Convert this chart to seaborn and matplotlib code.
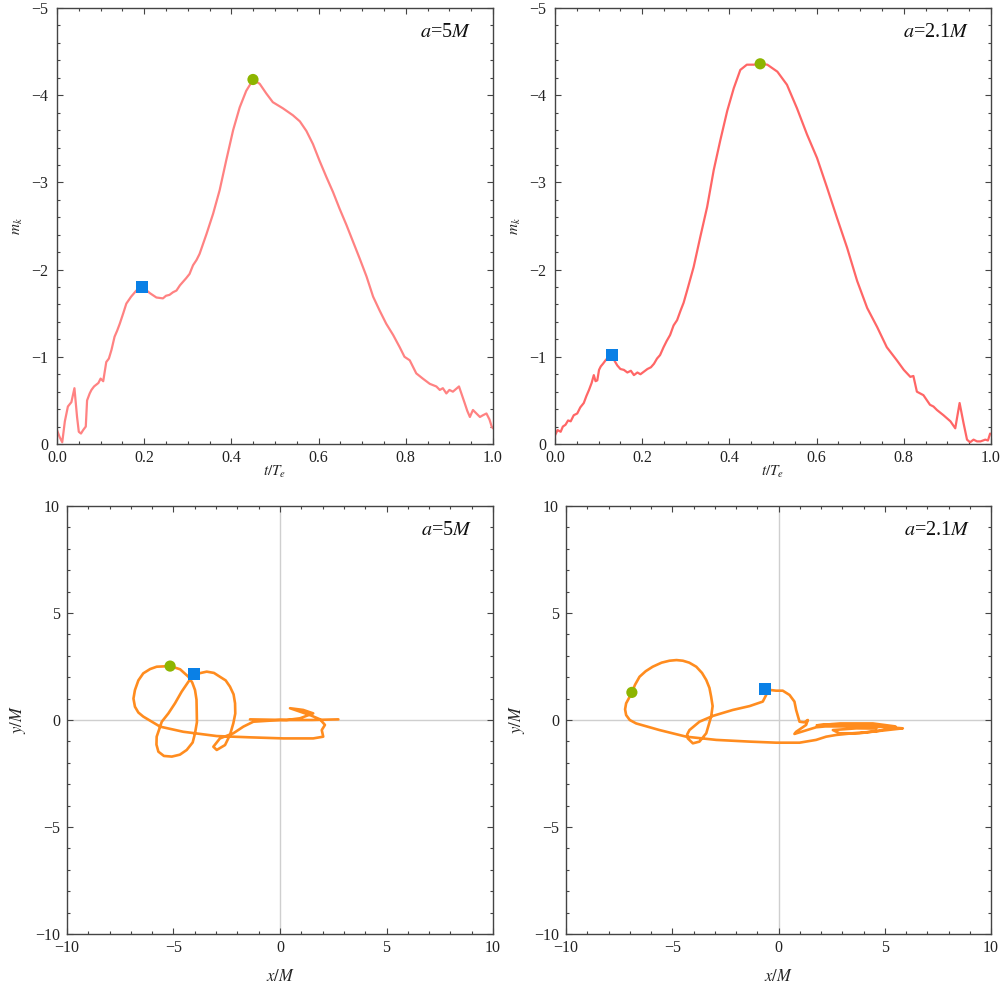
import matplotlib
matplotlib.use("Agg")
import matplotlib.pyplot as plt
from matplotlib.ticker import MultipleLocator
import seaborn as sns

# ---------------- data ----------------
tl_t = [0.0,0.006,0.012,0.018,0.025,0.033,0.040,0.046,0.050,0.055,
        0.060,0.066,0.069,0.075,0.079,0.085,0.09,0.095,0.10,0.106,
        0.113,0.119,0.125,0.132,0.138,0.144,0.152,0.159,0.17,0.182,
        0.196,0.213,0.228,0.243,0.25,0.258,0.266,0.274,0.282,0.289,
        0.296,0.304,0.312,0.32,0.327,0.343,0.358,0.373,0.388,0.404,
        0.419,0.434,0.45,0.465,0.48,0.495,0.518,0.541,0.557,0.572,
        0.587,0.602,0.618,0.633,0.648,0.664,0.679,0.694,0.71,0.725,
        0.74,0.755,0.771,0.786,0.797,0.809,0.824,0.839,0.855,0.87,
        0.878,0.885,0.893,0.900,0.908,0.922,0.935,0.941,0.947,0.954,
        0.962,0.97,0.977,0.985,0.992,0.997,1.0]
tl_m = [-0.16,-0.08,-0.02,-0.26,-0.43,-0.48,-0.64,-0.31,-0.14,-0.12,
        -0.16,-0.20,-0.50,-0.58,-0.62,-0.66,-0.68,-0.70,-0.75,-0.72,
        -0.94,-0.98,-1.08,-1.23,-1.30,-1.38,-1.50,-1.61,-1.69,-1.76,
        -1.80,-1.73,-1.68,-1.67,-1.70,-1.71,-1.74,-1.76,-1.82,-1.86,
        -1.90,-1.95,-2.05,-2.11,-2.18,-2.41,-2.64,-2.91,-3.25,-3.60,
        -3.86,-4.05,-4.18,-4.13,-4.02,-3.92,-3.85,-3.77,-3.70,-3.59,
        -3.44,-3.25,-3.06,-2.89,-2.70,-2.51,-2.32,-2.13,-1.92,-1.69,
        -1.53,-1.38,-1.25,-1.11,-1.00,-0.96,-0.81,-0.75,-0.69,-0.66,
        -0.62,-0.64,-0.58,-0.62,-0.60,-0.66,-0.47,-0.38,-0.31,-0.39,
        -0.35,-0.31,-0.33,-0.35,-0.28,-0.20,-0.18]

tr_t = [0.0,0.006,0.013,0.018,0.024,0.030,0.036,0.043,0.051,0.058,
        0.066,0.072,0.078,0.084,0.089,0.093,0.097,0.101,0.105,0.110,
        0.116,0.123,0.131,0.137,0.143,0.150,0.158,0.166,0.174,0.181,
        0.189,0.196,0.204,0.212,0.220,0.227,0.234,0.241,0.249,0.256,
        0.264,0.272,0.280,0.288,0.295,0.303,0.318,0.333,0.349,0.364,
        0.379,0.395,0.41,0.425,0.44,0.456,0.4706,0.487,0.51,0.532,
        0.555,0.578,0.601,0.624,0.647,0.67,0.693,0.716,0.739,0.761,
        0.784,0.80,0.815,0.822,0.83,0.845,0.86,0.868,0.876,0.891,
        0.907,0.918,0.928,0.937,0.945,0.952,0.96,0.968,0.976,0.987,
        0.993,0.998]
tr_m = [-0.10,-0.16,-0.14,-0.20,-0.22,-0.27,-0.26,-0.33,-0.35,-0.42,
        -0.47,-0.55,-0.62,-0.70,-0.79,-0.72,-0.73,-0.85,-0.89,-0.92,
        -0.96,-1.00,-1.02,-0.95,-0.90,-0.86,-0.85,-0.82,-0.84,-0.79,
        -0.82,-0.80,-0.83,-0.86,-0.88,-0.92,-0.98,-1.02,-1.11,-1.18,
        -1.25,-1.36,-1.42,-1.53,-1.62,-1.76,-2.03,-2.37,-2.72,-3.14,
        -3.48,-3.82,-4.08,-4.29,-4.35,-4.35,-4.36,-4.35,-4.27,-4.12,
        -3.85,-3.55,-3.28,-2.94,-2.59,-2.25,-1.87,-1.56,-1.34,-1.11,
        -0.96,-0.85,-0.77,-0.78,-0.60,-0.56,-0.45,-0.43,-0.39,-0.33,
        -0.26,-0.18,-0.47,-0.24,-0.05,-0.02,-0.05,-0.03,-0.03,-0.05,
        -0.04,-0.12]

bl_x = [2.74,1.5,0.0,-1.25,-1.72,-2.19,-2.82,-3.13,-2.97,-2.58,
        -2.35,-2.19,-2.10,-2.11,-2.18,-2.35,-2.55,-2.82,-3.10,-3.44,
        -4.02,-4.30,-4.62,-4.93,-5.24,-5.55,-5.79,-5.80,-5.71,-5.45,
        -5.08,-4.70,-4.38,-4.10,-3.99,-3.90,-3.91,-3.92,-3.99,-4.12,
        -4.30,-4.69,-5.16,-5.79,-6.10,-6.42,-6.65,-6.81,-6.88,-6.81,
        -6.65,-6.42,-5.63,-4.54,-2.97,-1.41,0.16,1.56,2.03,1.96,
        2.11,1.88,1.41,0.47,1.09,1.56,0.94,0.31,-1.41]
bl_y = [0.03,0.0,0.0,-0.08,-0.31,-0.62,-0.86,-1.25,-1.40,-1.17,
        -0.70,-0.15,0.30,0.78,1.20,1.56,1.85,2.02,2.20,2.26,
        2.13,1.79,1.32,0.78,0.31,-0.08,-0.78,-1.15,-1.48,-1.68,
        -1.71,-1.62,-1.40,-1.05,-0.62,-0.10,0.47,0.95,1.40,1.75,
        2.02,2.37,2.52,2.49,2.38,2.18,1.85,1.40,1.00,0.62,
        0.35,0.16,-0.31,-0.55,-0.75,-0.81,-0.86,-0.86,-0.78,-0.47,
        -0.23,0.03,0.23,0.55,0.47,0.31,0.08,0.0,0.03]

br_x = [4.0,5.07,3.66,2.2,1.77,0.75,0.83,1.30,1.38,1.22,
        0.99,0.83,0.75,0.52,0.20,-0.11,-0.64,-0.58,-0.74,-1.36,
        -2.15,-3.09,-3.72,-4.19,-4.30,-4.27,-4.03,-3.72,-3.40,-3.17,
        -3.10,-3.17,-3.25,-3.40,-3.60,-3.87,-4.20,-4.50,-4.80,-5.13,
        -5.50,-5.92,-6.25,-6.54,-6.75,-6.90,-7.05,-7.17,-7.22,-7.17,
        -7.00,-6.70,-5.60,-4.34,-2.93,-1.36,-0.11,0.99,1.77,2.24,
        2.71,3.50,4.40,5.30,5.85,4.75,3.60,2.50,1.80,2.90,
        4.44,5.50,4.75,3.81,2.87,2.56,3.66,4.60]
br_y = [-0.35,-0.31,-0.30,-0.30,-0.34,-0.65,-0.55,-0.23,0.0,-0.11,
        -0.08,0.47,0.86,1.17,1.37,1.37,1.43,1.17,0.86,0.65,
        0.47,0.19,-0.08,-0.47,-0.68,-0.86,-1.09,-1.01,-0.62,0.16,
        0.65,1.09,1.50,1.87,2.20,2.49,2.68,2.77,2.80,2.77,
        2.68,2.49,2.28,2.02,1.65,1.29,1.00,0.78,0.50,0.23,
        0.00,-0.16,-0.47,-0.78,-0.93,-1.01,-1.06,-1.06,-0.93,-0.78,
        -0.70,-0.62,-0.55,-0.45,-0.39,-0.30,-0.22,-0.20,-0.25,-0.16,
        -0.16,-0.30,-0.50,-0.62,-0.62,-0.47,-0.39,-0.40]

# marker points (square = earlier, circle = later)
tl_sq = ([0.196], [-1.80]); tl_ci = ([0.4495], [-4.18])
tr_sq = ([0.1306], [-1.02]); tr_ci = ([0.4706], [-4.36])
bl_sq = ([-4.02], [2.13]); bl_ci = ([-5.16], [2.52])
br_sq = ([-0.64], [1.43]); br_ci = ([-6.90], [1.29])

labels = ["5", "2.1"]

# ---------------- style ----------------
sns.set_theme(style="ticks")
plt.rcParams["font.family"] = ["Liberation Serif", "DejaVu Serif"]
plt.rcParams["mathtext.fontset"] = "stix"
plt.rcParams["axes.unicode_minus"] = True

RED1 = "#FF8282"
RED2 = "#FF6666"
ORANGE = "#FF8C1F"
GREEN = "#8DB500"
BLUE = "#0A80E6"
SPINE = "#444444"

fig = plt.figure(figsize=(10.01, 9.86), dpi=100)
W, H = 1001.0, 986.0

def add_ax(l, t, r, b):
    return fig.add_axes([l / W, 1 - b / H, (r - l) / W, (b - t) / H])

ax_tl = add_ax(57, 8, 493, 444)
ax_tr = add_ax(555, 8, 991, 444)
ax_bl = add_ax(67, 506, 493, 934)
ax_br = add_ax(566, 506, 991, 934)

def style(ax, ypad):
    for s in ax.spines.values():
        s.set_color(SPINE)
        s.set_linewidth(1.0)
    ax.tick_params(which="both", direction="in", top=True, right=True,
                   color=SPINE, width=0.8, labelsize=11.5, labelcolor="#222222")
    ax.tick_params(axis="x", pad=4.5)
    ax.tick_params(axis="y", pad=ypad)
    ax.tick_params(which="major", length=4.5)
    ax.tick_params(which="minor", length=2.5)
    ax.set_facecolor("white")

# top panels
for ax, t, m, col, sq, ci, lab in [(ax_tl, tl_t, tl_m, RED1, tl_sq, tl_ci, labels[0]),
                                   (ax_tr, tr_t, tr_m, RED2, tr_sq, tr_ci, labels[1])]:
    sns.lineplot(x=t, y=m, sort=False, estimator=None, color=col, linewidth=1.6, ax=ax)
    sns.scatterplot(x=sq[0], y=sq[1], marker="s", s=75, color=BLUE, edgecolor="none", ax=ax, zorder=5)
    sns.scatterplot(x=ci[0], y=ci[1], marker="o", s=65, color=GREEN, edgecolor="none", ax=ax, zorder=5)
    ax.set_xlim(0, 1)
    ax.set_ylim(0, -5)
    ax.xaxis.set_major_locator(MultipleLocator(0.2))
    ax.xaxis.set_minor_locator(MultipleLocator(0.05))
    ax.yaxis.set_major_locator(MultipleLocator(1))
    ax.yaxis.set_minor_locator(MultipleLocator(0.2))
    style(ax, 6.5)
    ax.set_xlabel(r"$t/T_e$", fontsize=11, labelpad=-2)
    ax.set_ylabel(r"$m_k$", fontsize=11, labelpad=4)
    ax.text(0.95, 0.943, r"$a$=" + lab + r"$M$", transform=ax.transAxes,
            ha="right", va="center", fontsize=14.5, color="#111111")

# bottom panels
for ax, x, y, sq, ci, lab in [(ax_bl, bl_x, bl_y, bl_sq, bl_ci, labels[0]),
                              (ax_br, br_x, br_y, br_sq, br_ci, labels[1])]:
    ax.axhline(0, color="#CFCFCF", linewidth=1.0, zorder=0)
    ax.axvline(0, color="#CFCFCF", linewidth=1.0, zorder=0)
    sns.lineplot(x=x, y=y, sort=False, estimator=None, color=ORANGE, linewidth=1.9, ax=ax)
    sns.scatterplot(x=sq[0], y=sq[1], marker="s", s=75, color=BLUE, edgecolor="none", ax=ax, zorder=5)
    sns.scatterplot(x=ci[0], y=ci[1], marker="o", s=65, color=GREEN, edgecolor="none", ax=ax, zorder=5)
    ax.set_xlim(-10, 10)
    ax.set_ylim(-10, 10)
    ax.xaxis.set_major_locator(MultipleLocator(5))
    ax.xaxis.set_minor_locator(MultipleLocator(1))
    ax.yaxis.set_major_locator(MultipleLocator(5))
    ax.yaxis.set_minor_locator(MultipleLocator(1))
    style(ax, 5)
    ax.set_xlabel(r"$x/M$", fontsize=12, labelpad=9)
    ax.set_ylabel(r"$y/M$", fontsize=12, labelpad=5)
    ax.text(0.95, 0.942, r"$a$=" + lab + r"$M$", transform=ax.transAxes,
            ha="right", va="center", fontsize=14.5, color="#111111")

fig.savefig("out.png", dpi=100, facecolor="white")
